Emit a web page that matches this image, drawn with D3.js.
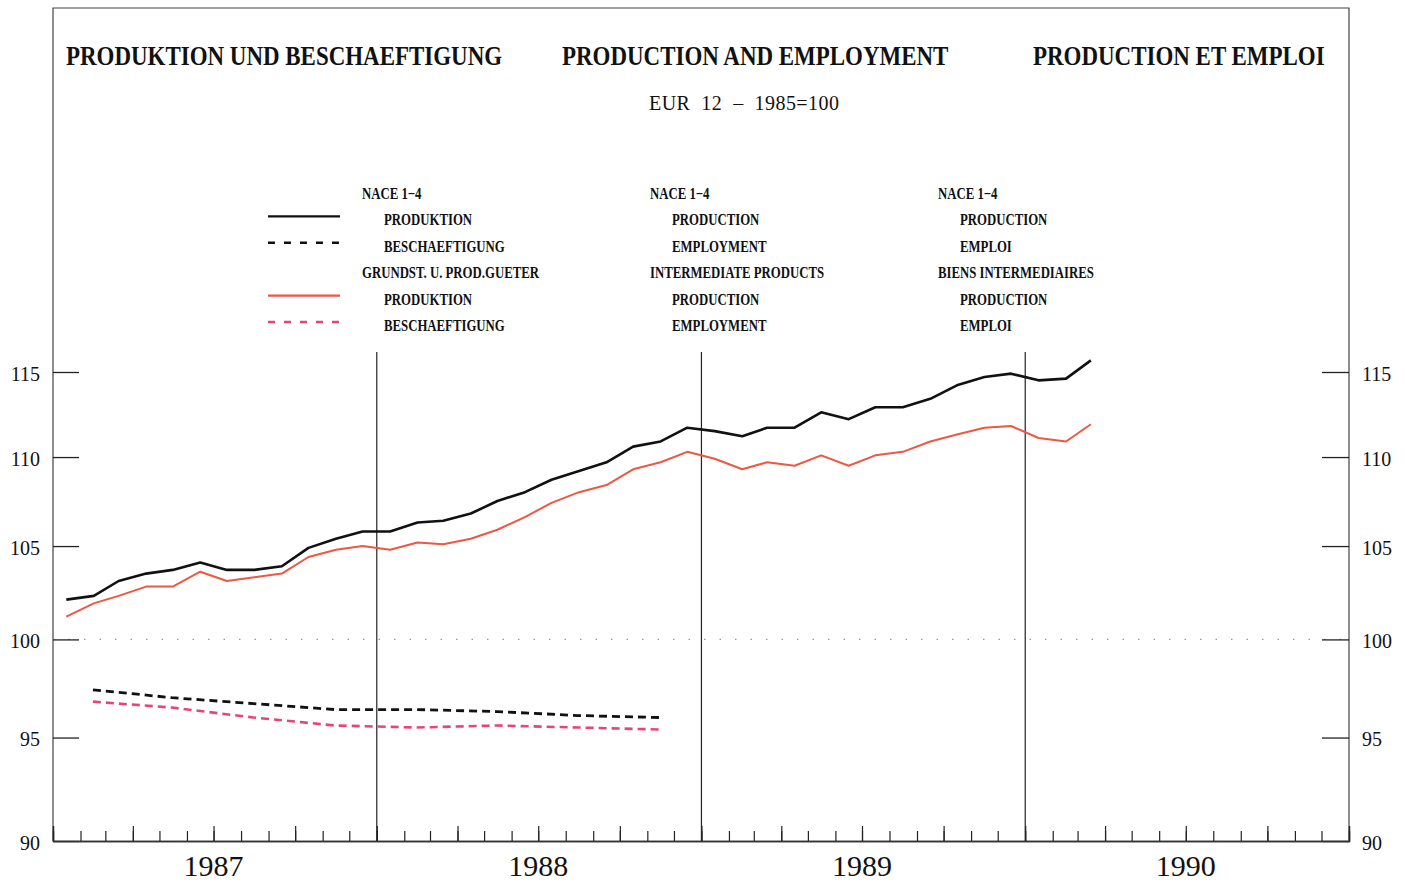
<!DOCTYPE html>
<html>
<head>
<meta charset="utf-8">
<script src="https://cdn.jsdelivr.net/npm/d3@7"></script>
<style>
  body { margin: 0; background: #fff; }
  text { font-family: "Liberation Serif", "DejaVu Serif", serif; fill: #111; }
</style>
</head>
<body>
<svg id="chart" width="1405" height="882"></svg>
<script>
// monthly production index, Jan 1987 - Mar 1990 (1985=100)
const prodTotal = [102.1, 102.3, 103.1, 103.5, 103.7, 104.1, 103.7, 103.7, 103.9, 104.9, 105.4, 105.8,
                   105.8, 106.3, 106.4, 106.8, 107.5, 108.0, 108.7, 109.2, 109.7, 110.6, 110.9, 111.7,
                   111.5, 111.2, 111.7, 111.7, 112.6, 112.2, 112.9, 112.9, 113.4, 114.2, 114.7, 114.9,
                   114.5, 114.6, 115.7];
const prodInter = [101.2, 101.9, 102.3, 102.8, 102.8, 103.6, 103.1, 103.3, 103.5, 104.4, 104.8, 105.0,
                   104.8, 105.2, 105.1, 105.4, 105.9, 106.6, 107.4, 108.0, 108.4, 109.3, 109.7, 110.3,
                   109.9, 109.3, 109.7, 109.5, 110.1, 109.5, 110.1, 110.3, 110.9, 111.3, 111.7, 111.8,
                   111.1, 110.9, 111.9];
// quarterly employment index, 1987 Q1 - 1988 Q4
const emplTotal = [97.4, 97.0, 96.7, 96.4, 96.4, 96.3, 96.1, 96.0];
const emplInter = [96.8, 96.5, 96.0, 95.6, 95.5, 95.6, 95.5, 95.4];

const yearLabels = [1987, 1988, 1989, 1990];
const yTicks = [90, 95, 100, 105, 110, 115];

const titles = ["PRODUKTION UND BESCHAEFTIGUNG", "PRODUCTION AND EMPLOYMENT", "PRODUCTION ET EMPLOI"];
const subtitle = "EUR  12  –  1985=100";
const legendDe = ["NACE 1−4", "PRODUKTION", "BESCHAEFTIGUNG", "GRUNDST. U. PROD.GUETER", "PRODUKTION", "BESCHAEFTIGUNG"];
const legendEn = ["NACE 1−4", "PRODUCTION", "EMPLOYMENT", "INTERMEDIATE PRODUCTS", "PRODUCTION", "EMPLOYMENT"];
const legendFr = ["NACE 1−4", "PRODUCTION", "EMPLOI", "BIENS INTERMEDIAIRES", "PRODUCTION", "EMPLOI"];

const margin = { left: 53, right: 1349, top: 8, bottom: 841 };

const svg = d3.select("#chart");

const x = d3.scaleTime()
    .domain([new Date(1987, 0, 1), new Date(1991, 0, 1)])
    .range([margin.left, margin.right]);

const y = d3.scaleLog()
    .domain([90, 115])
    .range([margin.bottom, 372]);

const monthly = v => v.map((d, i) => ({ date: new Date(1987, i, 16), value: d }));
const quarterly = v => v.map((d, i) => ({ date: new Date(1987, 3 * i + 1, 15), value: d }));

const series = [
    { data: monthly(prodTotal), color: "#111", width: 2.6, dash: null, row: 1 },
    { data: quarterly(emplTotal), color: "#111", width: 2.8, dash: "8,5", row: 2 },
    { data: monthly(prodInter), color: "#ec5842", width: 2, dash: null, row: 4 },
    { data: quarterly(emplInter), color: "#e6457a", width: 2.6, dash: "8,5", row: 5 }
];

// frame
svg.append("path")
    .attr("d", `M${margin.left},${margin.bottom}V${margin.top}H${margin.right}V${margin.bottom}`)
    .attr("fill", "none")
    .attr("stroke", "#444")
    .attr("stroke-width", 1.2);

// titles
const titleX = [66, 562, 1033];
titles.forEach((t, i) => {
    svg.append("text")
        .attr("transform", `translate(${titleX[i]},65) scale(0.82,1)`)
        .attr("font-size", 28)
        .attr("font-weight", "bold")
        .text(t);
});

svg.append("text")
    .attr("x", 649)
    .attr("y", 110)
    .attr("font-size", 20)
    .style("white-space", "pre")
    .attr("textLength", 190)
    .text(subtitle);

// 100 reference line
svg.append("line")
    .attr("x1", margin.left).attr("x2", margin.right)
    .attr("y1", y(100)).attr("y2", y(100))
    .attr("stroke", "#999")
    .attr("stroke-width", 1.2)
    .attr("stroke-dasharray", "1.5,14");

// y axes
const yLeft = svg.append("g")
    .attr("transform", `translate(${margin.left},0)`)
    .call(d3.axisLeft(y).tickValues(yTicks).tickFormat(d3.format("d")).tickSize(-26).tickPadding(13));
const yRight = svg.append("g")
    .attr("transform", `translate(${margin.right},0)`)
    .call(d3.axisRight(y).tickValues(yTicks).tickFormat(d3.format("d")).tickSize(-27).tickPadding(13));
[yLeft, yRight].forEach(g => {
    g.select(".domain").remove();
    g.selectAll("line").attr("stroke", "#222").attr("stroke-width", 1.3);
    g.selectAll("text")
        .attr("font-family", "Liberation Serif")
        .attr("font-size", 20)
        .attr("fill", "#111")
        .attr("dy", "0.4em");
});

// x axis: month ticks, longer at quarters
const xMonths = svg.append("g")
    .attr("transform", `translate(0,${margin.bottom})`)
    .call(d3.axisBottom(x).ticks(d3.timeMonth.every(1)).tickSize(-10).tickFormat(""));
const xQuarters = svg.append("g")
    .attr("transform", `translate(0,${margin.bottom})`)
    .call(d3.axisBottom(x).ticks(d3.timeMonth.every(3)).tickSize(-15).tickFormat(""));
[xMonths, xQuarters].forEach(g => {
    g.select(".domain").attr("stroke", "#333").attr("stroke-width", 1.3);
    g.selectAll("line").attr("stroke", "#222").attr("stroke-width", 1.2);
});

svg.selectAll(".year")
    .data(yearLabels)
    .enter().append("text")
    .attr("class", "year")
    .attr("x", d => x(new Date(d, 6, 1)))
    .attr("y", 876)
    .attr("text-anchor", "middle")
    .attr("font-size", 30)
    .text(d => d);

// year separators
svg.selectAll(".sep")
    .data(d3.timeYear.range(new Date(1988, 0, 1), new Date(1991, 0, 1)))
    .enter().append("line")
    .attr("class", "sep")
    .attr("x1", d => x(d)).attr("x2", d => x(d))
    .attr("y1", 352).attr("y2", margin.bottom)
    .attr("stroke", "#222")
    .attr("stroke-width", 1.2);

// lines
const line = d3.line()
    .x(d => x(d.date))
    .y(d => y(d.value));

series.forEach(s => {
    svg.append("path")
        .datum(s.data)
        .attr("d", line)
        .attr("fill", "none")
        .attr("stroke", s.color)
        .attr("stroke-width", s.width)
        .attr("stroke-dasharray", s.dash)
        .attr("stroke-linejoin", "round");
});

// legend
const rowY = i => 199 + 26.4 * i;
const legendX = [362, 650, 938];
[legendDe, legendEn, legendFr].forEach((col, c) => {
    col.forEach((t, i) => {
        const indent = (i === 0 || i === 3) ? 0 : 22;
        svg.append("text")
            .attr("transform", `translate(${legendX[c] + indent},${rowY(i)}) scale(0.8,1)`)
            .attr("font-size", 16)
            .attr("font-weight", "bold")
            .text(t);
    });
});

series.forEach(s => {
    svg.append("line")
        .attr("x1", 268).attr("x2", 340)
        .attr("y1", rowY(s.row) - 9).attr("y2", rowY(s.row) - 9)
        .attr("stroke", s.color)
        .attr("stroke-width", s.dash ? 2.6 : 2.4)
        .attr("stroke-dasharray", s.dash ? "7,9" : null);
});
</script>
</body>
</html>
